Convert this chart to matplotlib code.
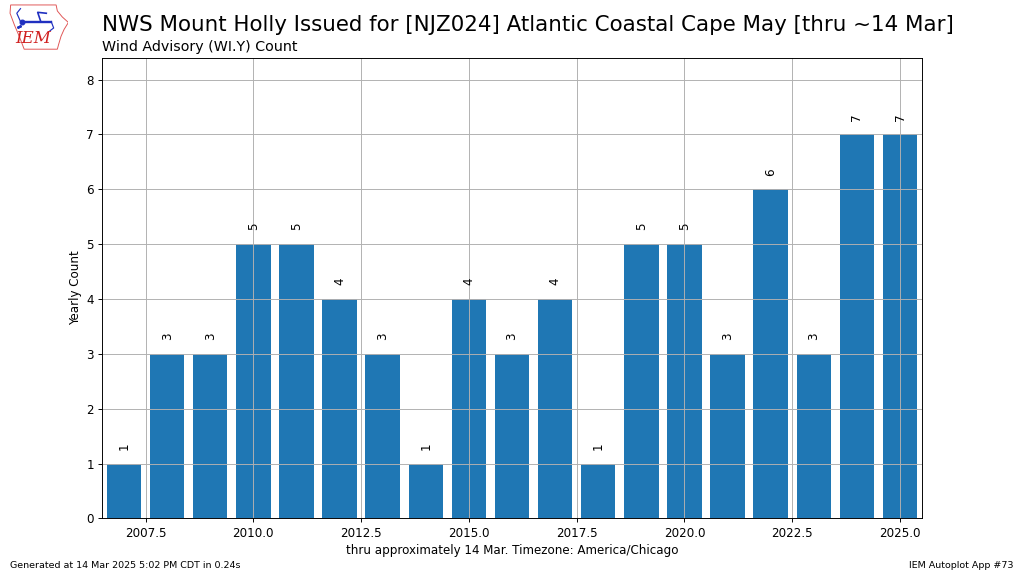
#!/usr/bin/env python3
# -*- coding: utf-8 -*-

import matplotlib
matplotlib.use("Agg")
import matplotlib.pyplot as plt
from matplotlib.patches import Polygon

# =========================================================
# DATA
# =========================================================
years = [2007, 2008, 2009, 2010, 2011, 2012, 2013, 2014, 2015, 2016,
         2017, 2018, 2019, 2020, 2021, 2022, 2023, 2024, 2025]
counts = [1, 3, 3, 5, 5, 4, 3, 1, 4, 3,
          4, 1, 5, 5, 3, 6, 3, 7, 7]

title = "NWS Mount Holly Issued for [NJZ024] Atlantic Coastal Cape May [thru ~14 Mar]"
subtitle = "Wind Advisory (WI.Y) Count"
xlabel = "thru approximately 14 Mar. Timezone: America/Chicago"
footer_left = "Generated at 14 Mar 2025 5:02 PM CDT in 0.24s"
footer_right = "IEM Autoplot App #73"

# =========================================================
# PLOT
# =========================================================
# 12 x 6.75 inch canvas rendered at 1024 x 576
fig = plt.figure(figsize=(12, 6.75), dpi=1024 / 12)
ax = fig.add_axes([0.1, 0.1, 0.8, 0.8])

ax.bar(years, counts, width=0.8, color="#1f77b4")
for yr, c in zip(years, counts):
    ax.text(yr, c + 0.25, str(c), rotation=90, ha="center", va="bottom")

ax.set_xlim(2006.5, 2025.5)
ax.set_ylim(0, 8.4)
ax.grid(True)
ax.set_ylabel("Yearly Count")
ax.set_xlabel(xlabel)

fig.text(0.1, 0.947, title, fontsize=18, ha="left", va="baseline")
fig.text(0.1, 0.912, subtitle, fontsize=12, ha="left", va="baseline")

fig.text(0.01, 0.01, footer_left, fontsize=8, ha="left", va="bottom")
fig.text(0.99, 0.01, footer_right, fontsize=8, ha="right", va="bottom")

# rough IEM logo in the top-left corner
lax = fig.add_axes([0.0068, 0.913, 0.06, 0.08])
lax.set_xlim(0, 1)
lax.set_ylim(0, 1)
lax.axis("off")
outline = [(0.06, 0.98), (0.8, 0.98), (0.82, 0.85), (0.9, 0.72), (1.0, 0.6),
           (0.93, 0.45), (0.88, 0.3), (0.84, 0.12), (0.82, 0.02),
           (0.28, 0.02), (0.2, 0.3), (0.12, 0.55), (0.05, 0.8)]
lax.add_patch(Polygon(outline, closed=True, fill=False, edgecolor="#e05555",
                      lw=0.8))
lax.plot([0.25, 0.72], [0.62, 0.62], color="#2030c0", lw=2.0)
lax.plot([0.25], [0.62], "o", color="#2030c0", ms=4)
lax.plot([0.22, 0.16, 0.22], [0.62, 0.8, 0.9], color="#2030c0", lw=1.0)
lax.plot([0.18, 0.22], [0.5, 0.52], "o", color="#2030c0", ms=1.5)
lax.plot([0.55, 0.5, 0.64], [0.62, 0.82, 0.8], color="#2030c0", lw=1.4)
lax.plot([0.72, 0.76, 0.7], [0.62, 0.48, 0.42], color="#2030c0", lw=1.0)
lax.text(0.42, 0.26, "IEM", color="#d02020", fontsize=14, family="serif",
         style="italic", ha="center", va="center")

fig.savefig("out.png", dpi=1024 / 12)
